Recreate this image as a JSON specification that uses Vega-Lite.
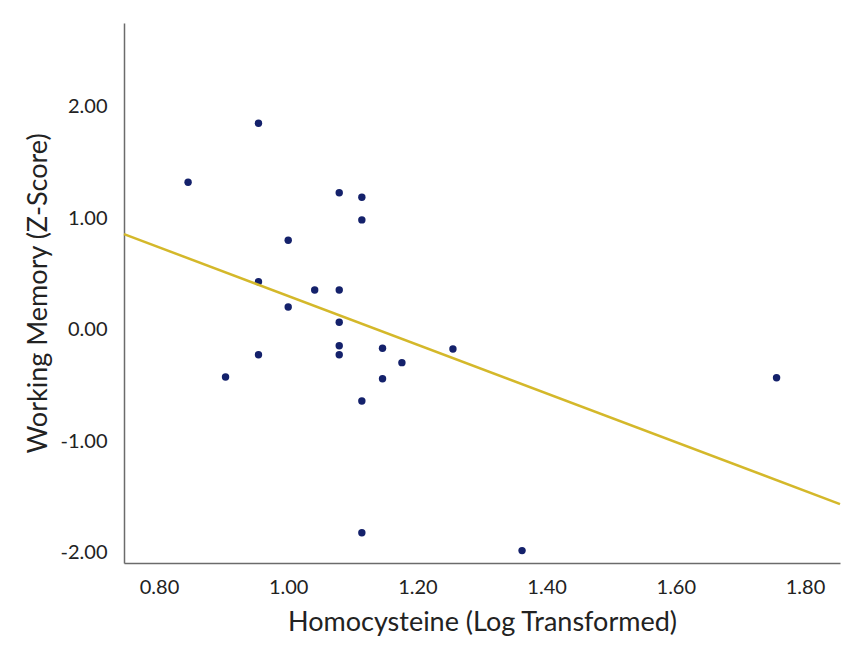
{
  "$schema": "https://vega.github.io/schema/vega-lite/v6.json",
  "width": 716,
  "height": 540,
  "autosize": "none",
  "padding": {"left": 124, "top": 23, "right": 11, "bottom": 82},
  "background": "white",
  "config": {"view": {"stroke": null}, "font": "Lato"},
  "data": {
    "values": [
      {"homocysteine_log": 0.954, "working_memory_z": 1.854},
      {"homocysteine_log": 0.845, "working_memory_z": 1.325},
      {"homocysteine_log": 1.079, "working_memory_z": 1.231},
      {"homocysteine_log": 1.114, "working_memory_z": 1.190},
      {"homocysteine_log": 1.114, "working_memory_z": 0.987},
      {"homocysteine_log": 1.000, "working_memory_z": 0.804},
      {"homocysteine_log": 0.954, "working_memory_z": 0.433},
      {"homocysteine_log": 1.041, "working_memory_z": 0.359},
      {"homocysteine_log": 1.079, "working_memory_z": 0.359},
      {"homocysteine_log": 1.000, "working_memory_z": 0.206},
      {"homocysteine_log": 1.079, "working_memory_z": 0.069},
      {"homocysteine_log": 1.079, "working_memory_z": -0.141},
      {"homocysteine_log": 1.146, "working_memory_z": -0.164},
      {"homocysteine_log": 1.255, "working_memory_z": -0.170},
      {"homocysteine_log": 0.954, "working_memory_z": -0.222},
      {"homocysteine_log": 1.079, "working_memory_z": -0.222},
      {"homocysteine_log": 1.176, "working_memory_z": -0.293},
      {"homocysteine_log": 0.903, "working_memory_z": -0.422},
      {"homocysteine_log": 1.146, "working_memory_z": -0.437},
      {"homocysteine_log": 1.114, "working_memory_z": -0.637},
      {"homocysteine_log": 1.114, "working_memory_z": -1.818},
      {"homocysteine_log": 1.362, "working_memory_z": -1.979},
      {"homocysteine_log": 1.756, "working_memory_z": -0.428}
    ]
  },
  "layer": [
    {
      "mark": {"type": "circle", "size": 55, "color": "#14216b", "opacity": 1},
      "encoding": {
        "x": {
          "field": "homocysteine_log",
          "type": "quantitative",
          "scale": {"domain": [0.7458, 1.8542], "nice": false, "zero": false},
          "axis": {
            "values": [0.8, 1.0, 1.2, 1.4, 1.6, 1.8],
            "format": ".2f",
            "ticks": false,
            "grid": false,
            "labelFontSize": 20,
            "labelColor": "#222222",
            "labelPadding": 14,
            "domainColor": "#6b6b6b",
            "domainWidth": 1.5,
            "title": "Homocysteine (Log Transformed)",
            "titleFontSize": 27,
            "titleFontWeight": "normal",
            "titleColor": "#222222",
            "titlePadding": 12
          }
        },
        "y": {
          "field": "working_memory_z",
          "type": "quantitative",
          "scale": {"domain": [-2.09, 2.753], "nice": false, "zero": false},
          "axis": {
            "values": [-2, -1, 0, 1, 2],
            "labelExpr": "(datum.value < 0 ? '-' : '') + format(abs(datum.value), '.2f')",
            "ticks": false,
            "grid": false,
            "labelFontSize": 20,
            "labelColor": "#222222",
            "labelPadding": 17,
            "domainColor": "#6b6b6b",
            "domainWidth": 1.5,
            "title": "Working Memory (Z-Score)",
            "titleFontSize": 27,
            "titleFontWeight": "normal",
            "titleColor": "#222222",
            "titlePadding": 8
          }
        }
      }
    },
    {
      "transform": [
        {"regression": "working_memory_z", "on": "homocysteine_log", "extent": [0.7458, 1.8542]}
      ],
      "mark": {"type": "line", "color": "#d4b82a", "strokeWidth": 2.5},
      "encoding": {
        "x": {"field": "homocysteine_log", "type": "quantitative"},
        "y": {"field": "working_memory_z", "type": "quantitative"}
      }
    }
  ]
}
